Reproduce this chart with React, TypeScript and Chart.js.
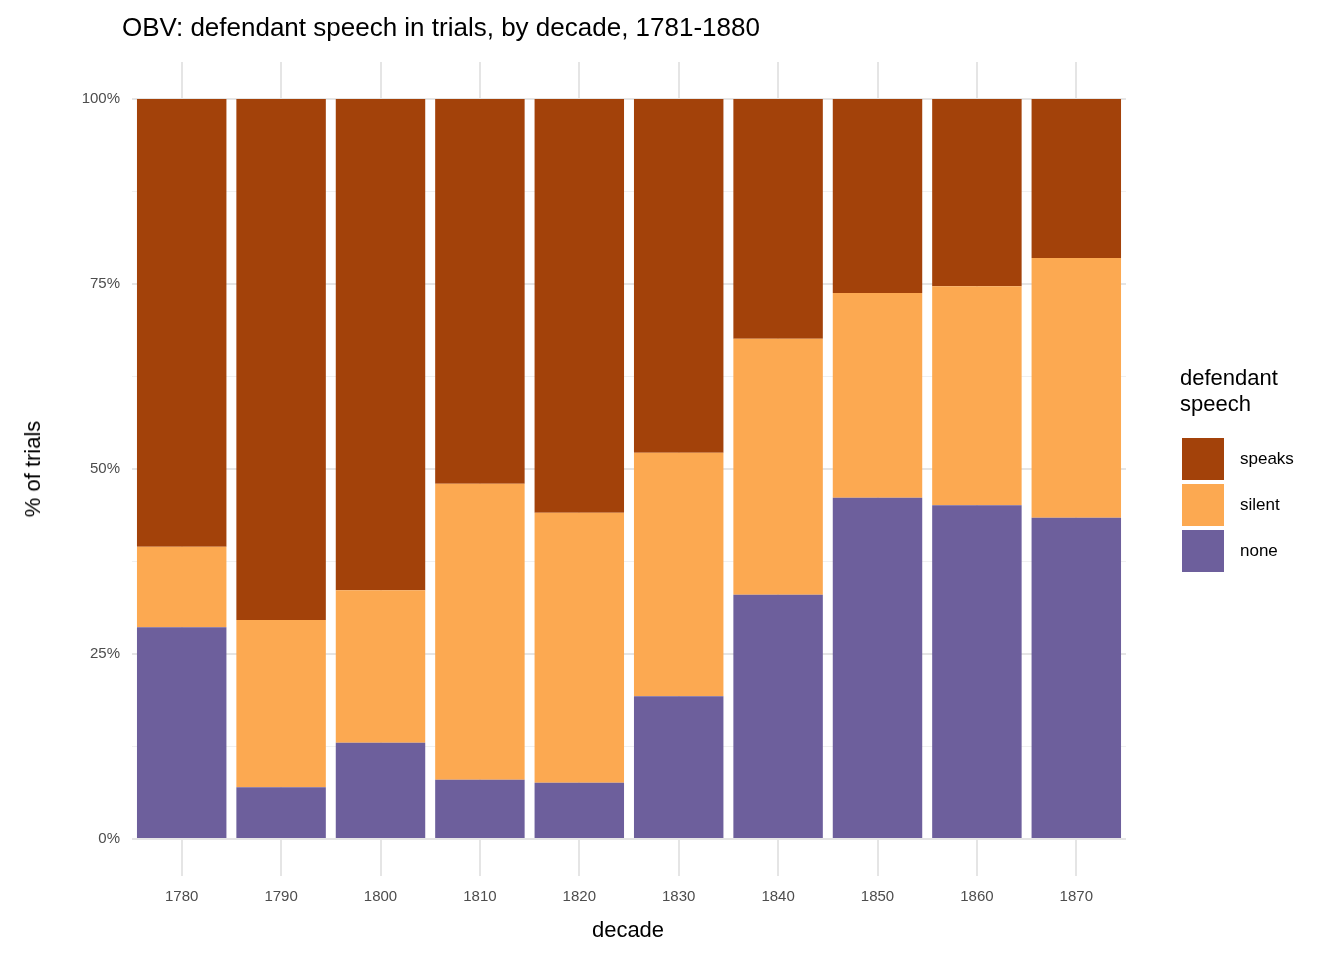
import React, { useEffect, useRef } from "react";
import { Chart, registerables } from "chart.js";
Chart.register(...registerables);

const decades = ["1780","1790","1800","1810","1820","1830","1840","1850","1860","1870"];
const nonePct = [28.6, 7.0, 13.0, 8.0, 7.6, 19.3, 33.0, 46.1, 45.1, 43.4];
const silentPct = [10.9, 22.6, 20.6, 40.0, 36.5, 32.9, 34.6, 27.7, 29.6, 35.1];
const speaksPct = [60.5, 70.4, 66.4, 52.0, 55.9, 47.8, 32.4, 26.2, 25.3, 21.5];
const yTicks = [0, 25, 50, 75, 100];

const C_SPEAKS = "#a3420a";
const C_SILENT = "#fca951";
const C_NONE = "#6d5f9c";
const FONT = "'Liberation Sans', Arial, sans-serif";

export default function App() {
  const ref = useRef<HTMLCanvasElement>(null);
  useEffect(() => {
    const chart = new Chart(ref.current!, {
      type: "bar",
      data: {
        labels: decades,
        datasets: [
          { label: "none", data: nonePct, backgroundColor: C_NONE },
          { label: "silent", data: silentPct, backgroundColor: C_SILENT },
          { label: "speaks", data: speaksPct, backgroundColor: C_SPEAKS },
        ],
      },
      options: {
        animation: false,
        responsive: false,
        layout: { padding: { top: 62, right: 218, left: 0, bottom: 0 } },
        plugins: { legend: { display: false }, tooltip: { enabled: false } },
        datasets: { bar: { categoryPercentage: 1, barPercentage: 0.9 } },
        scales: {
          x: {
            stacked: true,
            offset: true,
            grid: { offset: false, color: "#e5e5e5", lineWidth: 2, drawTicks: false },
            border: { display: false },
            ticks: { color: "#4d4d4d", font: { family: FONT, size: 15 }, padding: 12 },
            afterFit: (s: any) => { s.height = 84; },
          },
          y: {
            stacked: true,
            min: -5,
            max: 105,
            afterBuildTicks: (s: any) => {
              const t: any[] = [];
              for (let v = 0; v <= 100; v += 12.5) t.push({ value: v });
              s.ticks = t;
            },
            grid: {
              color: (c: any) => (c.tick && c.tick.value % 25 === 0 ? "#e5e5e5" : "#f0f0f0"),
              lineWidth: (c: any) => (c.tick && c.tick.value % 25 === 0 ? 2 : 1),
              drawTicks: false,
            },
            border: { display: false },
            ticks: {
              color: "#4d4d4d",
              font: { family: FONT, size: 15 },
              padding: 12,
              callback: (v: any) => (yTicks.includes(Number(v)) ? v + "%" : ""),
            },
            afterFit: (s: any) => { s.width = 132; },
          },
        },
      },
    });
    return () => chart.destroy();
  }, []);

  const key = (color: string, label: string, top: number) => (
    <React.Fragment key={label}>
      <div style={{ position: "absolute", left: 1182, top, width: 42, height: 42, background: color }} />
      <div style={{ position: "absolute", left: 1240, top: top + 11, fontSize: 17, color: "#000" }}>{label}</div>
    </React.Fragment>
  );

  return (
    <div style={{ position: "absolute", left: 0, top: 0, width: 1344, height: 960, background: "#fff", fontFamily: FONT }}>
      <canvas ref={ref} width={1344} height={960} style={{ position: "absolute", left: 0, top: 0 }} />
      <div style={{ position: "absolute", left: 122, top: 12, fontSize: 26, color: "#000" }}>
        OBV: defendant speech in trials, by decade, 1781-1880
      </div>
      <div style={{ position: "absolute", left: 0, width: 1256, top: 917, textAlign: "center", fontSize: 22 }}>decade</div>
      <div style={{ position: "absolute", left: 33, top: 469, transform: "translate(-50%,-50%) rotate(-90deg)", fontSize: 22, whiteSpace: "nowrap" }}>
        % of trials
      </div>
      <div style={{ position: "absolute", left: 1180, top: 365, fontSize: 22, lineHeight: "26px" }}>
        defendant<br />speech
      </div>
      {key(C_SPEAKS, "speaks", 438)}
      {key(C_SILENT, "silent", 484)}
      {key(C_NONE, "none", 530)}
    </div>
  );
}
